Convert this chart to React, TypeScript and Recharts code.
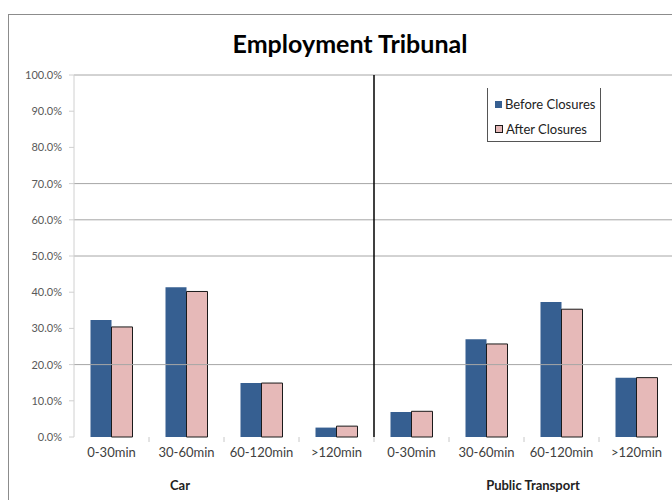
import React from "react";
import {
  BarChart,
  Bar,
  XAxis,
  YAxis,
  ReferenceLine,
} from "recharts";

const categoryIds = [
  "car-0-30",
  "car-30-60",
  "car-60-120",
  "car-120",
  "pt-0-30",
  "pt-30-60",
  "pt-60-120",
  "pt-120",
];
const categoryLabels = [
  "0-30min",
  "30-60min",
  "60-120min",
  ">120min",
  "0-30min",
  "30-60min",
  "60-120min",
  ">120min",
];
const beforeClosures = [32.3, 41.4, 14.9, 2.6, 6.9, 27.0, 37.3, 16.4];
const afterClosures = [30.4, 40.2, 14.9, 3.0, 7.1, 25.7, 35.3, 16.4];
const yTicks = [0, 10, 20, 30, 40, 50, 60, 70, 80, 90, 100];
// only these gridlines survive in the reference image
const gridValues = [20, 50, 60, 70, 100];

const FONT = "Lato, 'Liberation Sans', sans-serif";
const CHART_W = 680;
const CHART_H = 500;
const MARGIN = { top: 75, right: 6, bottom: 0, left: 0 };
const Y_AXIS_W = 74;

const data = categoryIds.map((id, i) => ({
  id,
  label: categoryLabels[i],
  before: beforeClosures[i],
  after: afterClosures[i],
}));

const bandWidth =
  (CHART_W - MARGIN.left - MARGIN.right - Y_AXIS_W) / categoryIds.length;

function CategoryTick(props: any) {
  const { x, y, payload, index } = props;
  const label = categoryLabels[categoryIds.indexOf(payload.value)];
  return (
    <g>
      {index > 0 && (
        <line
          x1={x - bandWidth / 2}
          x2={x - bandWidth / 2}
          y1={y}
          y2={y + 5}
          stroke="#c8c8c8"
        />
      )}
      <text
        x={x}
        y={y + 20}
        textAnchor="middle"
        fontSize={13}
        fill="#404040"
        fontFamily={FONT}
      >
        {label}
      </text>
    </g>
  );
}

const groupLabel: React.CSSProperties = {
  position: "absolute",
  top: 477,
  transform: "translateX(-50%)",
  fontSize: 13,
  fontWeight: 700,
  color: "#222",
  whiteSpace: "nowrap",
};

export default function App() {
  return (
    <div
      style={{
        position: "absolute",
        left: 0,
        top: 0,
        width: 672,
        height: 500,
        overflow: "hidden",
        background: "#fff",
        fontFamily: FONT,
      }}
    >
      <div
        style={{
          position: "absolute",
          left: 8,
          top: 14,
          width: 700,
          height: 520,
          borderLeft: "1px solid #8c8c8c",
          borderTop: "1px solid #8c8c8c",
        }}
      />
      <div
        style={{
          position: "absolute",
          left: 350,
          top: 28,
          transform: "translateX(-50%)",
          whiteSpace: "nowrap",
          fontSize: 25,
          fontWeight: 700,
          color: "#000",
        }}
      >
        Employment Tribunal
      </div>
      <div style={{ position: "absolute", left: 0, top: 0 }}>
        <BarChart
          width={CHART_W}
          height={CHART_H}
          data={data}
          margin={MARGIN}
          barCategoryGap="22%"
          barGap={0}
        >
          {gridValues.map((v) => (
            <ReferenceLine key={v} y={v} stroke="#a6a6a6" />
          ))}
          <XAxis
            dataKey="id"
            interval={0}
            axisLine={false}
            tickLine={false}
            tickSize={0}
            tickMargin={0}
            height={63}
            tick={<CategoryTick />}
          />
          <YAxis
            width={Y_AXIS_W}
            domain={[0, 100]}
            ticks={yTicks}
            tickFormatter={(v: number) => v.toFixed(1) + "%"}
            axisLine={{ stroke: "#d0d0d0" }}
            tickLine={{ stroke: "#d0d0d0" }}
            tickSize={5}
            tickMargin={7}
            tick={{ fontSize: 11, fill: "#595959", fontFamily: FONT }}
          />
          <Bar
            dataKey="before"
            name="Before Closures"
            fill="#365F91"
            isAnimationActive={false}
          />
          <Bar
            dataKey="after"
            name="After Closures"
            fill="#E6B9B8"
            stroke="#1a1a1a"
            strokeWidth={1}
            isAnimationActive={false}
          />
          <ReferenceLine
            x="pt-0-30"
            position="start"
            stroke="#000"
            strokeWidth={1.5}
          />
        </BarChart>
      </div>
      <div
        style={{
          position: "absolute",
          left: 487,
          top: 88,
          width: 112,
          height: 53,
          borderLeft: "1px solid #555",
          borderRight: "1px solid #555",
          borderBottom: "1px solid #555",
          fontSize: 13,
          color: "#222",
        }}
      >
        <div style={{ position: "absolute", left: 7, top: 8, display: "flex", alignItems: "center", whiteSpace: "nowrap" }}>
          <span style={{ width: 7, height: 7, background: "#365F91", marginRight: 3 }} />
          <span>Before Closures</span>
        </div>
        <div style={{ position: "absolute", left: 7, top: 33, display: "flex", alignItems: "center", whiteSpace: "nowrap" }}>
          <span
            style={{
              width: 6,
              height: 6,
              background: "#E6B9B8",
              border: "1px solid #1a1a1a",
              marginRight: 3,
            }}
          />
          <span>After Closures</span>
        </div>
      </div>
      <div style={{ ...groupLabel, left: 180 }}>Car</div>
      <div style={{ ...groupLabel, left: 533 }}>Public Transport</div>
    </div>
  );
}
